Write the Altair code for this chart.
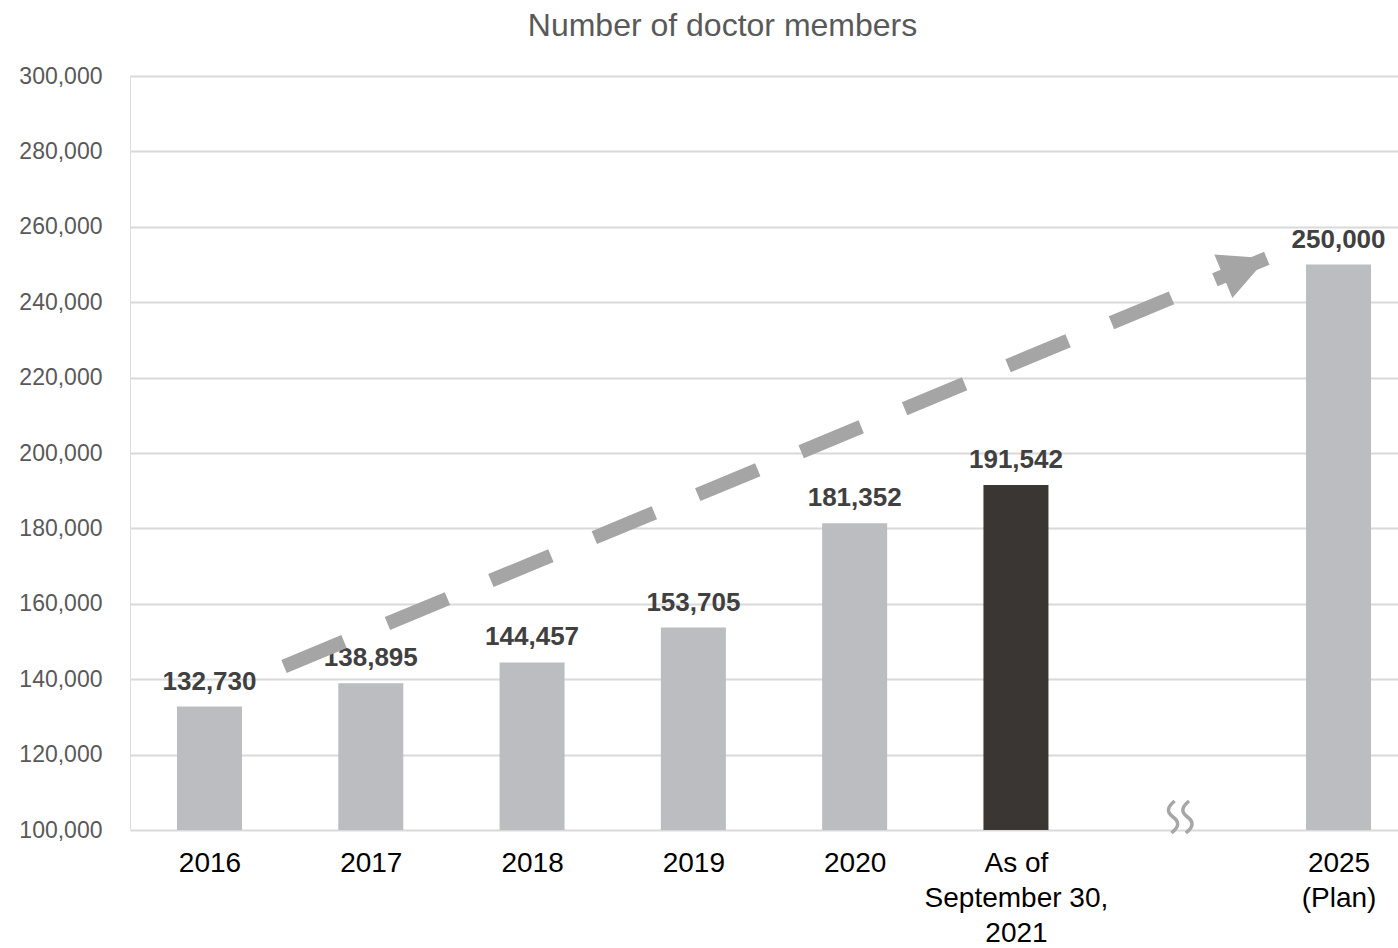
import altair as alt
import pandas as pd

# ---- data ----
categories = ["2016", "2017", "2018", "2019", "2020", "As of|September 30,|2021", "", "2025|(Plan)"]
members = [132730, 138895, 144457, 153705, 181352, 191542, None, 250000]
highlight = [False, False, False, False, False, True, False, False]
y_ticks = [100000, 120000, 140000, 160000, 180000, 200000, 220000, 240000, 260000, 280000, 300000]
y_min, y_max = 100000, 300000
x_domain = [-0.4929, 7.3687]

# trend arrow (start and tip, in category-index / value units)
arrow_x = [0.462, 6.555]
arrow_y = [143370, 251650]
break_index = 6

FONT = "Liberation Sans"

pos = list(range(len(categories)))
df = pd.DataFrame({"pos": pos, "label": categories, "members": members, "hl": highlight})
bars_df = df[df["members"].notna()].copy()

x_scale = alt.Scale(domain=x_domain, nice=False, zero=False, padding=0)
y_scale = alt.Scale(domain=[y_min, y_max], nice=False, zero=False, padding=0)

label_array = "[" + ",".join("'" + c + "'" for c in categories) + "]"

x_axis = alt.Axis(
    values=pos,
    labelExpr=f"split({label_array}[datum.value], '|')",
    title=None, grid=False, ticks=False, domain=False,
    labelFont=FONT, labelFontSize=28, labelColor="#000000",
    labelPadding=19, labelLineHeight=35, labelOverlap=False, labelFlush=False,
    labelBound=False, labelLimit=0,
)
y_axis = alt.Axis(
    values=y_ticks, labelExpr="format(datum.value, ',')", title=None,
    ticks=False, domain=False,
    labelFont=FONT, labelFontSize=23, labelColor="#595959", labelPadding=28,
    gridColor="#D9D9D9", gridWidth=2, labelLimit=0,
)

base = alt.Chart(bars_df)

bars = base.mark_bar(size=65).encode(
    x=alt.X("pos:Q", scale=x_scale, axis=x_axis),
    y=alt.Y("members:Q", scale=y_scale, axis=y_axis),
    y2=alt.datum(y_min),
    color=alt.condition("datum.hl", alt.value("#393634"), alt.value("#BCBDC0")),
)

labels = base.mark_text(
    font=FONT, fontSize=26, fontWeight="bold", color="#404040",
    baseline="alphabetic", dy=-17,
).encode(
    x=alt.X("pos:Q", scale=x_scale, axis=x_axis),
    y=alt.Y("members:Q", scale=y_scale, axis=y_axis),
    text=alt.Text("members:Q", format=","),
)

arrow_df = pd.DataFrame({"x": [arrow_x[0]], "x2": [arrow_x[1]], "y": [arrow_y[0]], "y2": [arrow_y[1]]})
arrow_line = alt.Chart(arrow_df).mark_rule(
    color="#A5A5A5", strokeWidth=14, strokeDash=[65, 47], strokeCap="butt"
).encode(
    x=alt.X("x:Q", scale=x_scale, axis=x_axis),
    x2="x2:Q",
    y=alt.Y("y:Q", scale=y_scale, axis=y_axis),
    y2="y2:Q",
)

head_df = pd.DataFrame({"x": [arrow_x[1]], "y": [arrow_y[1]]})
arrow_head = alt.Chart(head_df).mark_point(
    shape="M0,0L-1,2L1,2Z", filled=True, color="#A5A5A5", opacity=1,
    size=2209, angle=67.45, strokeWidth=0,
).encode(
    x=alt.X("x:Q", scale=x_scale, axis=x_axis),
    y=alt.Y("y:Q", scale=y_scale, axis=y_axis),
)

break_df = pd.DataFrame({"x": [break_index], "y": [y_min]})
squiggle = alt.Chart(break_df).mark_point(
    shape=("M-0.35,-1 C-0.85,-0.6 -0.85,-0.3 -0.45,0 C-0.05,0.3 -0.05,0.6 -0.55,1 "
           "M0.55,-1 C0.05,-0.6 0.05,-0.3 0.45,0 C0.85,0.3 0.85,0.6 0.35,1"),
    filled=False, color="#A6A6A6", strokeWidth=3.5, size=1024, opacity=1,
    yOffset=-13, xOffset=3,
).encode(
    x=alt.X("x:Q", scale=x_scale, axis=x_axis),
    y=alt.Y("y:Q", scale=y_scale, axis=y_axis),
)

chart = alt.layer(bars, labels, arrow_line, arrow_head, squiggle).properties(
    width=1268,
    height=754,
    autosize=alt.AutoSizeParams(type="none"),
    padding={"left": 130, "top": 76, "right": 0, "bottom": 118},
    title=alt.TitleParams(
        "Number of doctor members", font=FONT, fontSize=32, fontWeight="normal",
        color="#595959", anchor="middle", dx=-41.5, offset=22,
    ),
).configure_view(stroke=None).configure(background="white")

chart.save("out.html", embed_options={"renderer": "svg", "actions": False})
